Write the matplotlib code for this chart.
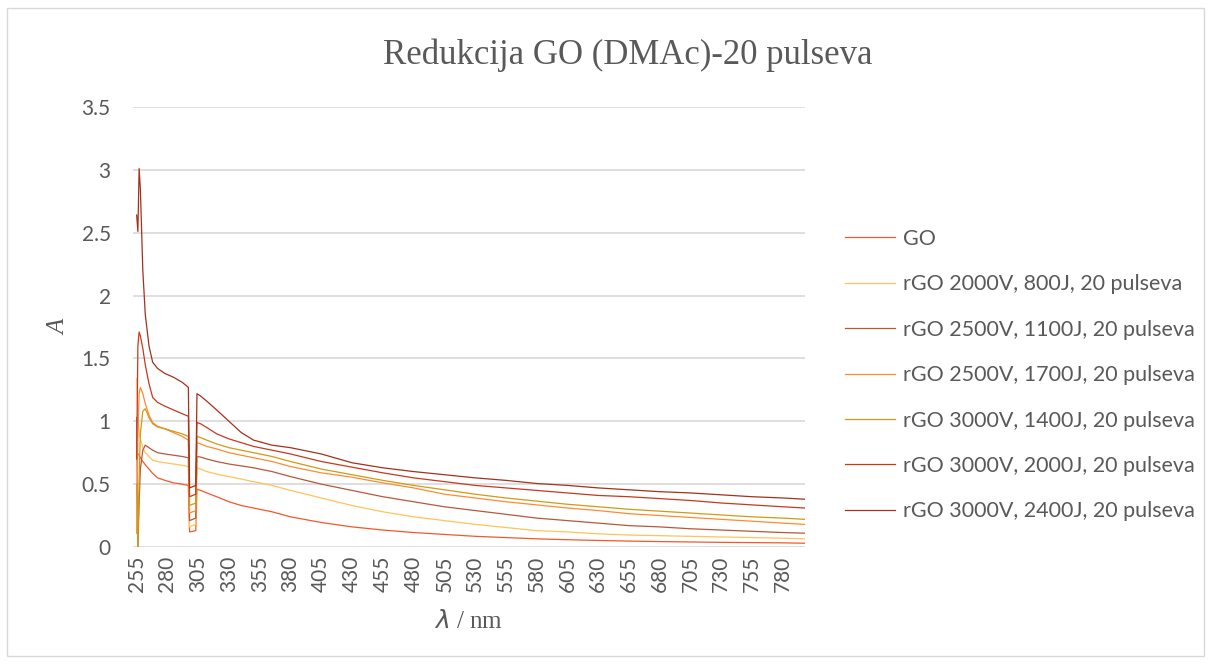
import matplotlib.pyplot as plt
from matplotlib.patches import Rectangle

wl = [255, 256, 257, 258, 260, 262, 265, 268, 272, 278, 285, 292, 297, 298, 303,
      304, 307, 312, 320, 330, 340, 350, 365, 380, 405, 430, 455, 480, 505, 530,
      555, 580, 605, 630, 655, 680, 705, 730, 755, 780, 798]

go = [0.75, 0.74, 0.73, 0.71, 0.68, 0.655, 0.62, 0.585, 0.55, 0.53, 0.51, 0.50, 0.49, 0.12, 0.13,
      0.46, 0.45, 0.43, 0.40, 0.36, 0.33, 0.31, 0.28, 0.24, 0.195, 0.16, 0.135, 0.115, 0.10, 0.085,
      0.075, 0.065, 0.058, 0.052, 0.047, 0.043, 0.04, 0.037, 0.035, 0.033, 0.03]
rgo_2000_800 = [1.34, 1.05, 0.91, 0.86, 0.79, 0.75, 0.72, 0.69, 0.68, 0.67, 0.66, 0.65, 0.64, 0.16, 0.18,
                0.63, 0.62, 0.60, 0.58, 0.56, 0.54, 0.52, 0.49, 0.45, 0.39, 0.33, 0.28, 0.24, 0.21, 0.18,
                0.155, 0.13, 0.12, 0.105, 0.095, 0.09, 0.085, 0.08, 0.075, 0.07, 0.065]
rgo_2500_1100 = [1.03, 0.0, 0.35, 0.62, 0.77, 0.81, 0.79, 0.77, 0.75, 0.74, 0.73, 0.72, 0.71, 0.21, 0.23,
                 0.72, 0.715, 0.70, 0.68, 0.66, 0.645, 0.63, 0.60, 0.56, 0.50, 0.45, 0.40, 0.36, 0.32, 0.29,
                 0.26, 0.23, 0.21, 0.19, 0.17, 0.16, 0.145, 0.135, 0.125, 0.115, 0.11]
rgo_2500_1700 = [0.11, 0.90, 1.22, 1.27, 1.22, 1.14, 1.05, 0.99, 0.96, 0.94, 0.91, 0.88, 0.85, 0.27, 0.29,
                 0.83, 0.82, 0.80, 0.78, 0.75, 0.73, 0.71, 0.68, 0.64, 0.59, 0.555, 0.51, 0.47, 0.42, 0.39,
                 0.36, 0.335, 0.31, 0.29, 0.265, 0.25, 0.235, 0.22, 0.205, 0.19, 0.18]
rgo_3000_1400 = [0.50, -0.01, 0.55, 0.90, 1.08, 1.10, 1.03, 0.98, 0.955, 0.94, 0.92, 0.90, 0.88, 0.33, 0.35,
                 0.88, 0.87, 0.85, 0.82, 0.79, 0.77, 0.75, 0.72, 0.68, 0.62, 0.575, 0.53, 0.49, 0.455, 0.42,
                 0.39, 0.365, 0.34, 0.32, 0.30, 0.285, 0.27, 0.255, 0.24, 0.23, 0.22]
rgo_3000_2000 = [0.70, 1.60, 1.71, 1.68, 1.58, 1.45, 1.30, 1.19, 1.15, 1.12, 1.09, 1.06, 1.04, 0.40, 0.42,
                 0.99, 0.98, 0.95, 0.90, 0.86, 0.83, 0.80, 0.77, 0.74, 0.68, 0.635, 0.59, 0.55, 0.52, 0.49,
                 0.47, 0.45, 0.43, 0.41, 0.40, 0.385, 0.37, 0.35, 0.335, 0.32, 0.31]
rgo_3000_2400 = [2.64, 2.51, 3.01, 2.85, 2.20, 1.85, 1.60, 1.47, 1.42, 1.38, 1.35, 1.31, 1.27, 0.47, 0.49,
                 1.22, 1.20, 1.16, 1.09, 1.00, 0.91, 0.85, 0.81, 0.79, 0.74, 0.67, 0.63, 0.60, 0.575, 0.55,
                 0.53, 0.505, 0.49, 0.47, 0.455, 0.44, 0.43, 0.415, 0.40, 0.39, 0.38]

labels = ["GO",
          "rGO 2000V, 800J, 20 pulseva",
          "rGO 2500V, 1100J, 20 pulseva",
          "rGO 2500V, 1700J, 20 pulseva",
          "rGO 3000V, 1400J, 20 pulseva",
          "rGO 3000V, 2000J, 20 pulseva",
          "rGO 3000V, 2400J, 20 pulseva"]
series = [go, rgo_2000_800, rgo_2500_1100, rgo_2500_1700,
          rgo_3000_1400, rgo_3000_2000, rgo_3000_2400]
colors = ["#f4582a", "#ffc35a", "#b9573b", "#ff8a33",
          "#d19a14", "#c8391c", "#a3321c"]

fig = plt.figure(figsize=(12.11, 6.64), dpi=100)
ax = fig.add_axes([0.1098, 0.1762, 0.5549, 0.6627])

for y, lab, c in zip(series, labels, colors):
    ax.plot(wl, y, color=c, linewidth=0.9, label=lab)

ax.set_xlim(252, 798)
ax.set_ylim(0, 3.5)
ax.set_xticks(range(255, 781, 25))
ax.set_yticks([0, 0.5, 1, 1.5, 2, 2.5, 3, 3.5])
ax.set_yticklabels(["0", "0.5", "1", "1.5", "2", "2.5", "3", "3.5"])
ax.tick_params(axis="x", rotation=90, length=0, pad=6, labelsize=15,
               labelcolor="#595959")
ax.tick_params(axis="y", length=0, pad=16, labelsize=15, labelcolor="#595959")
for lbl in ax.get_xticklabels() + ax.get_yticklabels():
    lbl.set_fontfamily("Lato")
ax.grid(axis="y", color="#d9d9d9", linewidth=1.2)
ax.set_axisbelow(True)
for s in ["top", "right", "left", "bottom"]:
    ax.spines[s].set_visible(False)

ax.set_xlabel(r"$\lambda$ / nm", family="Liberation Serif", fontsize=18,
              color="#595959", labelpad=13)
ax.set_ylabel("A", family="Liberation Serif", style="italic", fontsize=18,
              color="#595959", labelpad=8)

fig.text(0.518, 0.917, "Redukcija GO (DMAc)-20 pulseva", ha="center", va="center",
         family="Liberation Serif", fontsize=25, color="#595959")

leg = ax.legend(loc="upper left", bbox_to_anchor=(1.0595, 0.7227), frameon=False,
                borderaxespad=0, borderpad=0,
                handlelength=2.33, handletextpad=0.37, labelspacing=1.18,
                prop={"family": "Lato", "size": 15.5})
for t in leg.get_texts():
    t.set_color("#595959")

fig.add_artist(Rectangle((0.006, 0.012), 0.988, 0.976, transform=fig.transFigure,
                         fill=False, edgecolor="#d9d9d9", linewidth=1))

fig.savefig("out.png", dpi=100)
